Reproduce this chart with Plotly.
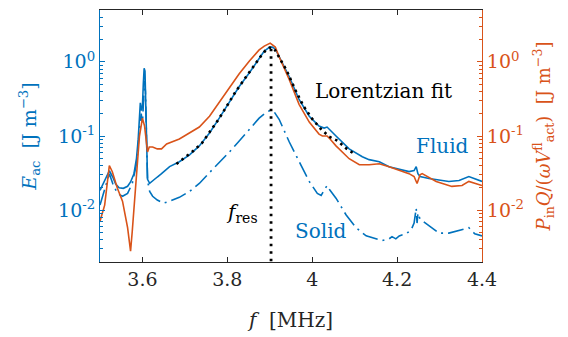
import math
import plotly.graph_objects as go

# Acoustic energy density in the fluid (left axis) [J m^-3]
fluid_f = [3.500, 3.511, 3.522, 3.530, 3.537, 3.545, 3.555, 3.565, 3.572, 3.580,
           3.586, 3.590, 3.593, 3.595, 3.598, 3.600, 3.602, 3.604, 3.606, 3.608,
           3.610, 3.612, 3.617, 3.624, 3.635, 3.645, 3.656, 3.664, 3.687, 3.711,
           3.734, 3.758, 3.781, 3.805, 3.828, 3.852, 3.875, 3.887, 3.899, 3.906,
           3.913, 3.922, 3.934, 3.946, 3.969, 3.993, 4.016, 4.028, 4.035, 4.045,
           4.056, 4.087, 4.118, 4.134, 4.158, 4.181, 4.228, 4.240, 4.245, 4.249,
           4.254, 4.275, 4.322, 4.346, 4.369, 4.400]
fluid_e = [0.0185, 0.025, 0.034, 0.028, 0.0225, 0.020, 0.0197, 0.021, 0.024, 0.031,
           0.05, 0.09, 0.20, 0.28, 0.22, 0.25, 0.50, 0.82, 0.75, 0.30,
           0.06, 0.026, 0.023, 0.025, 0.028, 0.031, 0.035, 0.0386, 0.045, 0.0558,
           0.0736, 0.110, 0.174, 0.293, 0.464, 0.714, 1.13, 1.40, 1.57, 1.58,
           1.49, 1.17, 0.885, 0.63, 0.311, 0.185, 0.136, 0.128, 0.132, 0.117,
           0.100, 0.067, 0.0525, 0.048, 0.045, 0.0386, 0.0331, 0.0341, 0.0386, 0.0311,
           0.0284, 0.0267, 0.0244, 0.0251, 0.0284, 0.0244]

# Acoustic energy density in the solid (left axis) [J m^-3]
solid_f = [3.500, 3.511, 3.522, 3.530, 3.541, 3.553, 3.565, 3.576, 3.586, 3.593,
           3.597, 3.600, 3.603, 3.605, 3.607, 3.609, 3.612, 3.617, 3.624, 3.635,
           3.649, 3.664, 3.687, 3.711, 3.734, 3.758, 3.781, 3.805, 3.828, 3.852,
           3.875, 3.889, 3.901, 3.911, 3.922, 3.946, 3.969, 3.993, 4.012, 4.021,
           4.028, 4.035, 4.042, 4.056, 4.080, 4.103, 4.127, 4.151, 4.165, 4.181,
           4.188, 4.197, 4.205, 4.221, 4.233, 4.240, 4.245, 4.247, 4.249, 4.254,
           4.261, 4.275, 4.299, 4.322, 4.346, 4.369, 4.383, 4.400]
solid_e = [0.0117, 0.0197, 0.031, 0.0229, 0.0168, 0.0154, 0.0168, 0.0229, 0.042, 0.12,
           0.20, 0.15, 0.35, 0.55, 0.40, 0.10, 0.025, 0.0179, 0.0154, 0.0137,
           0.0124, 0.0132, 0.0149, 0.0179, 0.0229, 0.0321, 0.0436, 0.061, 0.0858, 0.124,
           0.174, 0.203, 0.222, 0.209, 0.168, 0.083, 0.045, 0.0244, 0.0168, 0.0158,
           0.0185, 0.0215, 0.0185, 0.0145, 0.0086, 0.0058, 0.0045, 0.0041, 0.0039, 0.0041,
           0.0044, 0.0041, 0.0045, 0.0048, 0.0054, 0.0067, 0.0106, 0.0067, 0.0091, 0.0076,
           0.0071, 0.0061, 0.0049, 0.0049, 0.0054, 0.0058, 0.0048, 0.0045]

# Input power scaled by Q/(omega V_act^fl) (right axis) [J m^-3]
power_f = [3.500, 3.511, 3.522, 3.529, 3.541, 3.553, 3.565, 3.572, 3.576, 3.586,
           3.593, 3.600, 3.605, 3.612, 3.616, 3.624, 3.635, 3.645, 3.657, 3.687,
           3.711, 3.734, 3.758, 3.781, 3.805, 3.828, 3.852, 3.875, 3.887, 3.901,
           3.913, 3.922, 3.946, 3.969, 3.993, 4.016, 4.024, 4.035, 4.042, 4.056,
           4.087, 4.111, 4.134, 4.158, 4.181, 4.228, 4.240, 4.247, 4.254, 4.259,
           4.292, 4.329, 4.353, 4.369, 4.400]
power_e = [0.0071, 0.0117, 0.040, 0.033, 0.0197, 0.0132, 0.0058, 0.0028, 0.0052, 0.029,
           0.10, 0.174, 0.136, 0.061, 0.071, 0.071, 0.067, 0.067, 0.078, 0.091,
           0.110, 0.132, 0.185, 0.284, 0.45, 0.69, 1.03, 1.45, 1.63, 1.79,
           1.58, 1.17, 0.575, 0.267, 0.154, 0.106, 0.100, 0.100, 0.091, 0.0736,
           0.0494, 0.041, 0.041, 0.0423, 0.0386, 0.0311, 0.0284, 0.0229, 0.030, 0.0311,
           0.0244, 0.0209, 0.0215, 0.0244, 0.0215]

# Lorentzian fit of the fluid energy around the resonance
fit_f = [3.68, 3.70, 3.72, 3.74, 3.76, 3.78, 3.80, 3.82, 3.84, 3.86,
         3.88, 3.89, 3.90, 3.91, 3.92, 3.94, 3.96, 3.98, 4.00, 4.02,
         4.04, 4.06, 4.08, 4.10]
fit_e = [0.042, 0.051, 0.063, 0.080, 0.115, 0.17, 0.26, 0.40, 0.58, 0.85,
         1.22, 1.42, 1.56, 1.52, 1.22, 0.76, 0.42, 0.25, 0.17, 0.125,
         0.098, 0.086, 0.068, 0.057]

f_res = 3.903
f_res_span = [1.5, 0.002]

x_ticks = [3.6, 3.8, 4.0, 4.2, 4.4]
x_labels = ["3.6", "3.8", "4", "4.2", "4.4"]
y_ticks = [0.01, 0.1, 1]
y_labels = ["10<sup>-2</sup>", "10<sup>-1</sup>", "10<sup>0</sup>"]
y_lim = [0.002, 5]

BLUE = "#0072BD"
ORANGE = "#D95319"
DARK = "#262626"
FONT = "DejaVu Serif"

fig = go.Figure()
fig.add_trace(go.Scatter(x=fluid_f, y=fluid_e, mode="lines", yaxis="y",
                         line=dict(color=BLUE, width=1.6), name="Fluid"))
fig.add_trace(go.Scatter(x=solid_f, y=solid_e, mode="lines", yaxis="y",
                         line=dict(color=BLUE, width=1.6, dash="16px,5px,2px,5px"),
                         name="Solid"))
fig.add_trace(go.Scatter(x=power_f, y=power_e, mode="lines", yaxis="y2",
                         line=dict(color=ORANGE, width=1.6), name="Power"))
fig.add_trace(go.Scatter(x=fit_f, y=fit_e, mode="lines", yaxis="y2",
                         line=dict(color="black", width=2.6, dash="2.5px,4px"),
                         name="Lorentzian fit"))
fig.add_trace(go.Scatter(x=[f_res, f_res], y=f_res_span, mode="lines", yaxis="y2",
                         line=dict(color="black", width=2.8, dash="2.5px,5px"),
                         name="f_res"))

ylog = [math.log10(v) for v in y_lim]


def yaxis_style(color, side):
    return dict(type="log", range=ylog, showline=True, linecolor=color, linewidth=1,
                ticks="inside", ticklen=5, tickcolor=color, tickwidth=1,
                tickvals=y_ticks, ticktext=y_labels, showgrid=False, zeroline=False,
                tickfont=dict(family=FONT, size=19, color=color),
                minor=dict(ticks="inside", ticklen=3, tickcolor=color, dtick="D1",
                           showgrid=False),
                side=side)


y1 = yaxis_style(BLUE, "left")
y1["title"] = dict(text="<i>E</i><sub>ac</sub>  [J m<sup>−3</sup>]",
                   font=dict(family=FONT, size=19, color=BLUE), standoff=16)
y2 = yaxis_style(ORANGE, "right")
y2["overlaying"] = "y"
y2["title"] = dict(text="<i>P</i><sub>in</sub><i>Q</i>/(<i>ωV</i><sup>fl</sup><sub>act</sub>)  [J m<sup>−3</sup>]",
                   font=dict(family=FONT, size=18, color=ORANGE), standoff=14)

fig.update_layout(
    width=568, height=337,
    margin=dict(l=100, r=86, t=9, b=73),
    paper_bgcolor="white", plot_bgcolor="white",
    showlegend=False,
    font=dict(family=FONT),
    xaxis=dict(range=[3.5, 4.4], showline=True, linecolor=DARK, linewidth=1,
               mirror="ticks", ticks="inside", ticklen=5, tickcolor=DARK,
               tickvals=x_ticks, ticktext=x_labels, showgrid=False, zeroline=False,
               tickfont=dict(family=FONT, size=19, color=DARK),
               title=dict(text="<i>f</i>  [MHz]", font=dict(family=FONT, size=20, color=DARK),
                          standoff=24)),
    yaxis=y1,
    yaxis2=y2,
)

labels = [
    ("Lorentzian fit", 4.169, 0.40, "black", 20),
    ("Fluid", 4.306, 0.0736, BLUE, 20),
    ("Solid", 4.021, 0.0052, BLUE, 20),
    ("<i>f</i><sub>res</sub>", 3.835, 0.0091, "black", 20),
]
for text, fx, fy, color, size in labels:
    fig.add_annotation(x=fx, y=math.log10(fy), xref="x", yref="y", text=text,
                       showarrow=False, font=dict(family=FONT, size=size, color=color))

fig.write_html("out.html")
